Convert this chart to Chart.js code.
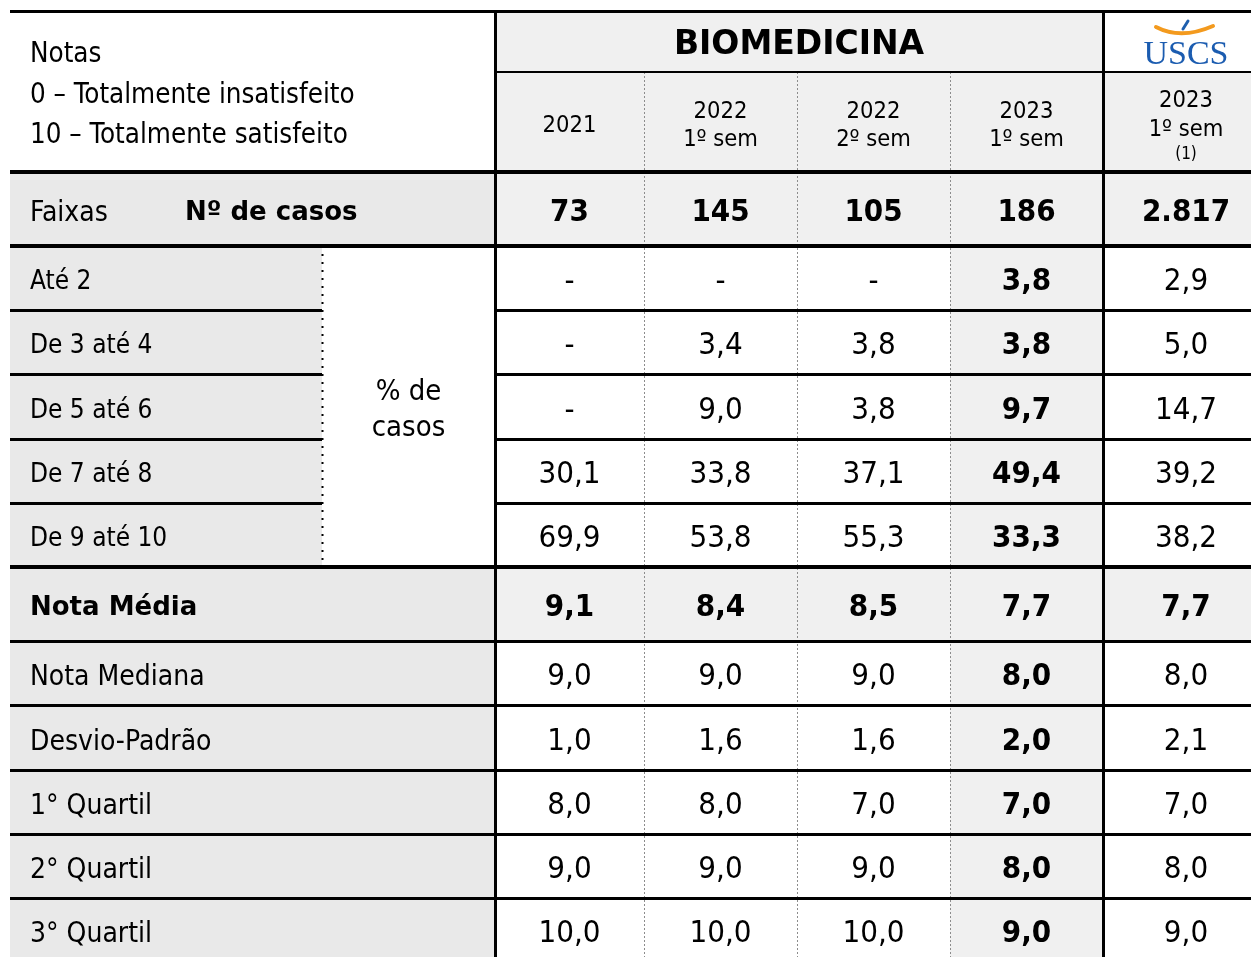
<!DOCTYPE html>
<html lang="pt-BR">
<head>
<meta charset="utf-8">
<title>Biomedicina - Notas</title>
<script src="https://cdn.jsdelivr.net/npm/chart.js@4.4.1/dist/chart.umd.min.js"></script>
<style>
  html, body { margin: 0; padding: 0; background: #fff; }
  #wrap { width: 1251px; height: 957px; }
</style>
</head>
<body>
<div id="wrap"><canvas id="tbl" width="1251" height="957"></canvas></div>
<script>
// Table data
const periodos = [['2021'], ['2022', '1º sem'], ['2022', '2º sem'], ['2023', '1º sem'], ['2023', '1º sem', '(1)']];
const casos = [73, 145, 105, 186, 2817];
const faixas = ['Até 2', 'De 3 até 4', 'De 5 até 6', 'De 7 até 8', 'De 9 até 10'];
const ate2 = [null, null, null, 3.8, 2.9];
const de3a4 = [null, 3.4, 3.8, 3.8, 5.0];
const de5a6 = [null, 9.0, 3.8, 9.7, 14.7];
const de7a8 = [30.1, 33.8, 37.1, 49.4, 39.2];
const de9a10 = [69.9, 53.8, 55.3, 33.3, 38.2];
const estatisticas = ['Nota Média', 'Nota Mediana', 'Desvio-Padrão', '1° Quartil', '2° Quartil', '3° Quartil'];
const notaMedia = [9.1, 8.4, 8.5, 7.7, 7.7];
const notaMediana = [9.0, 9.0, 9.0, 8.0, 8.0];
const desvioPadrao = [1.0, 1.6, 1.6, 2.0, 2.1];
const quartil1 = [8.0, 8.0, 7.0, 7.0, 7.0];
const quartil2 = [9.0, 9.0, 9.0, 8.0, 8.0];
const quartil3 = [10.0, 10.0, 10.0, 9.0, 9.0];

// Layout in scale units (x runs 0..1251, y runs 0..957 over the canvas)
// last column and last row run past the canvas edge, as in the source picture
const xEdges = [10, 322, 495, 644, 797, 950, 1103, 1269];
const yEdges = [11, 72, 172, 246, 310, 374, 439, 503, 567, 641, 705, 770, 834, 898, 962];
const FONT = '"DejaVu Sans Condensed", "DejaVu Sans", sans-serif';
const FONT_WIDE = '"DejaVu Sans", sans-serif';
const GRAY_LABEL = '#e9e9e9';
const GRAY_CELL = '#f0f0f0';

const fmt = v => v === null ? '-' : v.toFixed(1).replace('.', ',');
const fmtInt = v => String(v).replace(/\B(?=(\d{3})+(?!\d))/g, '.');
const mid = (a, b) => (a + b) / 2;
const colMid = i => mid(xEdges[i + 2], xEdges[i + 3]);

// one point per value cell, text drawn at the point position
const celulas = [];
casos.forEach((v, i) => {
  celulas.push({ x: colMid(i), y: mid(yEdges[2], yEdges[3]), txt: fmtInt(v), bold: true });
});
[ate2, de3a4, de5a6, de7a8, de9a10].forEach((serie, r) => {
  serie.forEach((v, i) => {
    celulas.push({ x: colMid(i), y: mid(yEdges[3 + r], yEdges[4 + r]), txt: fmt(v), bold: i === 3 });
  });
});
[notaMedia, notaMediana, desvioPadrao, quartil1, quartil2, quartil3].forEach((serie, r) => {
  serie.forEach((v, i) => {
    celulas.push({ x: colMid(i), y: mid(yEdges[8 + r], yEdges[9 + r]), txt: fmt(v), bold: r === 0 || i === 3 });
  });
});

const tabela = {
  id: 'tabela',
  beforeDatasetsDraw(chart) {
    const { ctx, scales: { x, y } } = chart;
    const px = v => x.getPixelForValue(v);
    const py = v => y.getPixelForValue(v);
    const rect = (x0, x1, y0, y1, c) => {
      ctx.fillStyle = c;
      ctx.fillRect(px(x0), py(y0), px(x1) - px(x0), py(y1) - py(y0));
    };
    const hline = (x0, x1, yy, w) => {
      ctx.fillStyle = '#000';
      ctx.fillRect(px(x0), Math.round(py(yy) - w / 2), px(x1) - px(x0), w);
    };
    const vline = (xx, y0, y1, w) => {
      ctx.fillStyle = '#000';
      ctx.fillRect(Math.round(px(xx) - w / 2), py(y0), w, py(y1) - py(y0));
    };
    const dotted = (xx, y0, y1, color, w, dash) => {
      ctx.save();
      ctx.strokeStyle = color;
      ctx.lineWidth = w;
      ctx.setLineDash(dash);
      ctx.beginPath();
      ctx.moveTo(Math.round(px(xx)) + 0.5, py(y0));
      ctx.lineTo(Math.round(px(xx)) + 0.5, py(y1));
      ctx.stroke();
      ctx.restore();
    };
    ctx.save();
    // backgrounds
    rect(xEdges[2], xEdges[6], yEdges[0], yEdges[1], GRAY_CELL);
    rect(xEdges[2], xEdges[7], yEdges[1], yEdges[2], GRAY_CELL);
    rect(xEdges[0], xEdges[2], yEdges[2], yEdges[3], GRAY_LABEL);
    rect(xEdges[2], xEdges[7], yEdges[2], yEdges[3], GRAY_CELL);
    rect(xEdges[0], xEdges[1], yEdges[3], yEdges[8], GRAY_LABEL);
    rect(xEdges[5], xEdges[6], yEdges[3], yEdges[14], GRAY_CELL);
    rect(xEdges[0], xEdges[2], yEdges[8], yEdges[14], GRAY_LABEL);
    rect(xEdges[2], xEdges[7], yEdges[8], yEdges[9], GRAY_CELL);

    // dotted separators
    [3, 4, 5].forEach(k => dotted(xEdges[k], yEdges[1], yEdges[14], '#8c8c8c', 1, [2, 2]));
    dotted(xEdges[1], yEdges[3], yEdges[8], '#000', 2, [2, 6]);

    // rules
    hline(xEdges[0], xEdges[7], yEdges[0], 3);
    hline(xEdges[2], xEdges[7], yEdges[1], 2);
    [2, 3, 8].forEach(k => hline(xEdges[0], xEdges[7], yEdges[k], 4));
    [4, 5, 6, 7].forEach(k => {
      hline(xEdges[0], xEdges[1], yEdges[k], 3);
      hline(xEdges[2], xEdges[7], yEdges[k], 3);
    });
    [9, 10, 11, 12, 13].forEach(k => hline(xEdges[0], xEdges[7], yEdges[k], 3));
    vline(xEdges[2], yEdges[0], yEdges[14], 3);
    vline(xEdges[6], yEdges[0], yEdges[14], 3);
    ctx.restore();
  },
  afterDatasetsDraw(chart) {
    const { ctx, scales: { x, y } } = chart;
    const px = v => x.getPixelForValue(v);
    const py = v => y.getPixelForValue(v);
    // text centred on its cap height at yy
    const text = (s, xx, yy, size, opts = {}) => {
      ctx.font = `${opts.bold ? 'bold ' : ''}${size}px ${opts.family || FONT}`;
      ctx.fillStyle = opts.color || '#000';
      ctx.textAlign = opts.align || 'center';
      ctx.textBaseline = 'alphabetic';
      ctx.fillText(s, px(xx), py(yy) + size * 0.365);
    };
    ctx.save();
    // note legend
    text('Notas', 30, 52, 27.5, { align: 'left' });
    text('0 – Totalmente insatisfeito', 30, 93, 27.5, { align: 'left' });
    text('10 – Totalmente satisfeito', 30, 133, 27.5, { align: 'left' });

    // title
    text('BIOMEDICINA', mid(xEdges[2], xEdges[6]), mid(yEdges[0], yEdges[1]), 33,
      { bold: true, family: FONT_WIDE });

    // USCS logo
    const lx = colMid(4);
    ctx.strokeStyle = '#f39a1e';
    ctx.lineWidth = 4;
    ctx.lineCap = 'round';
    ctx.beginPath();
    ctx.moveTo(px(lx - 30), py(27));
    ctx.quadraticCurveTo(px(lx - 5), py(40), px(lx + 27), py(26));
    ctx.stroke();
    ctx.strokeStyle = '#1f5fae';
    ctx.lineWidth = 3;
    ctx.beginPath();
    ctx.moveTo(px(lx + 2), py(21));
    ctx.lineTo(px(lx - 3), py(29));
    ctx.stroke();
    text('USCS', lx, 52, 34, { color: '#1b5cb0', family: '"Liberation Serif", "DejaVu Serif", serif' });

    // period headers
    periodos.forEach((linhas, i) => {
      const cy = mid(yEdges[1], yEdges[2]) + 1;
      if (linhas.length === 1) {
        text(linhas[0], colMid(i), cy, 23.5);
      } else if (linhas.length === 2) {
        text(linhas[0], colMid(i), cy - 14, 23.5);
        text(linhas[1], colMid(i), cy + 14, 23.5);
      } else {
        text(linhas[0], colMid(i), cy - 25, 23.5);
        text(linhas[1], colMid(i), cy + 4, 23.5);
        text(linhas[2], colMid(i), cy + 30, 17);
      }
    });

    // row labels
    const rowY = k => mid(yEdges[k], yEdges[k + 1]) + 2;
    text('Faixas', 30, rowY(2), 28, { align: 'left' });
    text('Nº de casos', 185, rowY(2), 26, { align: 'left', bold: true, family: FONT_WIDE });
    faixas.forEach((f, r) => text(f, 30, rowY(3 + r), 26, { align: 'left' }));
    const pctY = mid(yEdges[3], yEdges[8]);
    text('% de', mid(xEdges[1], xEdges[2]), pctY - 17, 29);
    text('casos', mid(xEdges[1], xEdges[2]), pctY + 19, 29);
    estatisticas.forEach((s, r) => {
      if (r === 0) text(s, 30, rowY(8), 26, { align: 'left', bold: true, family: FONT_WIDE });
      else text(s, 30, rowY(8 + r), 28, { align: 'left' });
    });

    // values, placed by the chart's own point elements
    const meta = chart.getDatasetMeta(0);
    meta.data.forEach((el, i) => {
      const c = celulas[i];
      ctx.font = `${c.bold ? 'bold ' : ''}31px ${FONT}`;
      ctx.fillStyle = '#000';
      ctx.textAlign = 'center';
      ctx.textBaseline = 'alphabetic';
      ctx.fillText(c.txt, el.x, el.y + 1 + 31 * 0.365);
    });
    ctx.restore();
  }
};

new Chart(document.getElementById('tbl'), {
  type: 'scatter',
  data: { datasets: [{ data: celulas, pointRadius: 0, pointHoverRadius: 0 }] },
  options: {
    responsive: false,
    animation: false,
    devicePixelRatio: 1,
    events: [],
    layout: { padding: 0 },
    plugins: { legend: { display: false }, tooltip: { enabled: false } },
    scales: {
      x: { type: 'linear', min: 0, max: 1251, display: false },
      y: { type: 'linear', min: 0, max: 957, reverse: true, display: false }
    }
  },
  plugins: [tabela]
});
</script>
</body>
</html>
